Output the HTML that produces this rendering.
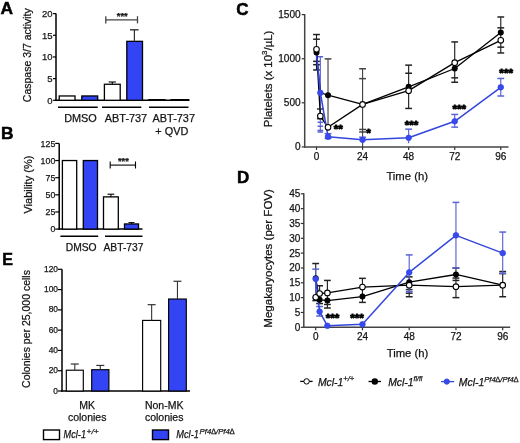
<!DOCTYPE html>
<html><head><meta charset="utf-8"><style>
html,body{margin:0;padding:0;background:#fff;width:520px;height:443px;overflow:hidden}
svg{display:block;will-change:transform}
text{font-family:"Liberation Sans",sans-serif;stroke:#1a1a1a;stroke-width:0.25px}
</style></head><body>
<svg width="520" height="443" viewBox="0 0 520 443">
<rect width="520" height="443" fill="#fff"/>
<text x="0.60" y="14.40" font-size="17.4" text-anchor="start" font-weight="bold" font-style="normal" fill="#000" style="stroke:#000;stroke-width:0.5px">A</text>
<line x1="56.00" y1="13.60" x2="56.00" y2="101.00" stroke="#000" stroke-width="1.50"/>
<line x1="53.00" y1="100.30" x2="56.00" y2="100.30" stroke="#000" stroke-width="1.20"/>
<text x="52.50" y="103.70" font-size="9.5" text-anchor="end" font-weight="normal" font-style="normal" fill="#111" >0</text>
<line x1="53.00" y1="78.62" x2="56.00" y2="78.62" stroke="#000" stroke-width="1.20"/>
<text x="52.50" y="82.03" font-size="9.5" text-anchor="end" font-weight="normal" font-style="normal" fill="#111" >5</text>
<line x1="53.00" y1="56.95" x2="56.00" y2="56.95" stroke="#000" stroke-width="1.20"/>
<text x="52.50" y="60.35" font-size="9.5" text-anchor="end" font-weight="normal" font-style="normal" fill="#111" >10</text>
<line x1="53.00" y1="35.27" x2="56.00" y2="35.27" stroke="#000" stroke-width="1.20"/>
<text x="52.50" y="38.67" font-size="9.5" text-anchor="end" font-weight="normal" font-style="normal" fill="#111" >15</text>
<line x1="53.00" y1="13.60" x2="56.00" y2="13.60" stroke="#000" stroke-width="1.20"/>
<text x="52.50" y="17.00" font-size="9.5" text-anchor="end" font-weight="normal" font-style="normal" fill="#111" >20</text>
<text transform="translate(30.8,55.2) rotate(-90)" font-size="10.5" text-anchor="middle" fill="#111">Caspase 3/7 activity</text>
<line x1="55.30" y1="100.30" x2="189.50" y2="100.30" stroke="#000" stroke-width="1.50"/>
<rect x="59.20" y="95.97" width="15.80" height="4.33" fill="#fff" stroke="#000" stroke-width="1.3"/>
<rect x="81.80" y="95.97" width="15.90" height="4.33" fill="#3344f4" stroke="#000" stroke-width="1.3"/>
<rect x="104.40" y="84.26" width="15.80" height="16.04" fill="#fff" stroke="#000" stroke-width="1.3"/>
<rect x="126.80" y="41.34" width="15.70" height="58.96" fill="#3344f4" stroke="#000" stroke-width="1.3"/>
<rect x="149.00" y="99.65" width="16.00" height="0.65" fill="#fff" stroke="#000" stroke-width="1.3"/>
<rect x="171.00" y="99.65" width="17.50" height="0.65" fill="#3344f4" stroke="#000" stroke-width="1.3"/>
<line x1="112.30" y1="84.26" x2="112.30" y2="82.00" stroke="#000" stroke-width="1.10"/>
<line x1="108.70" y1="82.00" x2="115.90" y2="82.00" stroke="#000" stroke-width="1.10"/>
<line x1="134.40" y1="41.34" x2="134.40" y2="29.80" stroke="#333" stroke-width="1.20"/>
<line x1="130.00" y1="29.80" x2="138.60" y2="29.80" stroke="#333" stroke-width="1.40"/>
<line x1="105.80" y1="19.90" x2="137.50" y2="19.90" stroke="#444" stroke-width="1.30"/>
<line x1="105.80" y1="16.20" x2="105.80" y2="23.40" stroke="#444" stroke-width="1.30"/>
<line x1="137.50" y1="16.20" x2="137.50" y2="23.40" stroke="#444" stroke-width="1.30"/>
<text x="122.20" y="19.40" font-size="9.3" text-anchor="middle" font-weight="bold" font-style="normal" fill="#111" >***</text>
<line x1="58.00" y1="107.20" x2="97.70" y2="107.20" stroke="#000" stroke-width="1.40"/>
<line x1="102.00" y1="107.20" x2="141.30" y2="107.20" stroke="#000" stroke-width="1.40"/>
<line x1="149.00" y1="107.20" x2="188.50" y2="107.20" stroke="#000" stroke-width="1.40"/>
<text x="80.50" y="122.00" font-size="10.9" text-anchor="middle" font-weight="normal" font-style="normal" fill="#111" >DMSO</text>
<text x="126.00" y="122.00" font-size="10.9" text-anchor="middle" font-weight="normal" font-style="normal" fill="#111" >ABT-737</text>
<text x="173.80" y="122.00" font-size="10.9" text-anchor="middle" font-weight="normal" font-style="normal" fill="#111" >ABT-737</text>
<text x="171.80" y="134.80" font-size="10.9" text-anchor="middle" font-weight="normal" font-style="normal" fill="#111" >+ QVD</text>
<text x="1.00" y="139.40" font-size="17.4" text-anchor="start" font-weight="bold" font-style="normal" fill="#000" style="stroke:#000;stroke-width:0.5px">B</text>
<line x1="59.20" y1="143.40" x2="59.20" y2="229.80" stroke="#000" stroke-width="1.50"/>
<line x1="55.20" y1="229.10" x2="59.20" y2="229.10" stroke="#000" stroke-width="1.20"/>
<text x="55.30" y="232.20" font-size="8.8" text-anchor="end" font-weight="normal" font-style="normal" fill="#111" >0</text>
<line x1="55.20" y1="211.96" x2="59.20" y2="211.96" stroke="#000" stroke-width="1.20"/>
<text x="55.30" y="215.06" font-size="8.8" text-anchor="end" font-weight="normal" font-style="normal" fill="#111" >25</text>
<line x1="55.20" y1="194.82" x2="59.20" y2="194.82" stroke="#000" stroke-width="1.20"/>
<text x="55.30" y="197.92" font-size="8.8" text-anchor="end" font-weight="normal" font-style="normal" fill="#111" >50</text>
<line x1="55.20" y1="177.68" x2="59.20" y2="177.68" stroke="#000" stroke-width="1.20"/>
<text x="55.30" y="180.78" font-size="8.8" text-anchor="end" font-weight="normal" font-style="normal" fill="#111" >75</text>
<line x1="55.20" y1="160.54" x2="59.20" y2="160.54" stroke="#000" stroke-width="1.20"/>
<text x="55.30" y="163.64" font-size="8.8" text-anchor="end" font-weight="normal" font-style="normal" fill="#111" >100</text>
<line x1="55.20" y1="143.40" x2="59.20" y2="143.40" stroke="#000" stroke-width="1.20"/>
<text x="55.30" y="146.50" font-size="8.8" text-anchor="end" font-weight="normal" font-style="normal" fill="#111" >125</text>
<text transform="translate(31.6,184.6) rotate(-90)" font-size="11" text-anchor="middle" fill="#111">Viability (%)</text>
<line x1="58.50" y1="229.10" x2="142.50" y2="229.10" stroke="#000" stroke-width="1.50"/>
<rect x="62.40" y="160.54" width="14.30" height="68.56" fill="#fff" stroke="#000" stroke-width="1.3"/>
<rect x="83.30" y="160.54" width="14.20" height="68.56" fill="#3344f4" stroke="#000" stroke-width="1.3"/>
<rect x="103.50" y="196.88" width="14.80" height="32.22" fill="#fff" stroke="#000" stroke-width="1.3"/>
<rect x="124.50" y="223.96" width="14.00" height="5.14" fill="#3344f4" stroke="#000" stroke-width="1.3"/>
<line x1="110.90" y1="196.88" x2="110.90" y2="194.20" stroke="#000" stroke-width="1.10"/>
<line x1="107.50" y1="194.20" x2="114.30" y2="194.20" stroke="#000" stroke-width="1.10"/>
<line x1="131.50" y1="223.96" x2="131.50" y2="222.60" stroke="#000" stroke-width="1.00"/>
<line x1="128.50" y1="222.60" x2="134.50" y2="222.60" stroke="#000" stroke-width="1.00"/>
<line x1="110.20" y1="165.10" x2="135.50" y2="165.10" stroke="#000" stroke-width="1.10"/>
<line x1="110.20" y1="161.50" x2="110.20" y2="168.50" stroke="#000" stroke-width="1.10"/>
<line x1="135.50" y1="161.50" x2="135.50" y2="168.50" stroke="#000" stroke-width="1.10"/>
<text x="123.40" y="163.80" font-size="9.3" text-anchor="middle" font-weight="bold" font-style="normal" fill="#111" >***</text>
<line x1="60.40" y1="236.20" x2="98.20" y2="236.20" stroke="#000" stroke-width="1.40"/>
<line x1="105.00" y1="236.20" x2="142.50" y2="236.20" stroke="#000" stroke-width="1.40"/>
<text x="81.20" y="250.70" font-size="10.3" text-anchor="middle" font-weight="normal" font-style="normal" fill="#111" >DMSO</text>
<text x="123.50" y="250.70" font-size="10.3" text-anchor="middle" font-weight="normal" font-style="normal" fill="#111" >ABT-737</text>
<text x="2.20" y="265.00" font-size="16.0" text-anchor="start" font-weight="bold" font-style="normal" fill="#000" style="stroke:#000;stroke-width:0.5px">E</text>
<line x1="62.00" y1="269.30" x2="62.00" y2="391.70" stroke="#000" stroke-width="1.50"/>
<line x1="58.00" y1="391.00" x2="62.00" y2="391.00" stroke="#000" stroke-width="1.20"/>
<text x="58.00" y="393.50" font-size="8.4" text-anchor="end" font-weight="normal" font-style="normal" fill="#111" >0</text>
<line x1="58.00" y1="370.72" x2="62.00" y2="370.72" stroke="#000" stroke-width="1.20"/>
<text x="58.00" y="373.22" font-size="8.4" text-anchor="end" font-weight="normal" font-style="normal" fill="#111" >20</text>
<line x1="58.00" y1="350.43" x2="62.00" y2="350.43" stroke="#000" stroke-width="1.20"/>
<text x="58.00" y="352.93" font-size="8.4" text-anchor="end" font-weight="normal" font-style="normal" fill="#111" >40</text>
<line x1="58.00" y1="330.15" x2="62.00" y2="330.15" stroke="#000" stroke-width="1.20"/>
<text x="58.00" y="332.65" font-size="8.4" text-anchor="end" font-weight="normal" font-style="normal" fill="#111" >60</text>
<line x1="58.00" y1="309.87" x2="62.00" y2="309.87" stroke="#000" stroke-width="1.20"/>
<text x="58.00" y="312.37" font-size="8.4" text-anchor="end" font-weight="normal" font-style="normal" fill="#111" >80</text>
<line x1="58.00" y1="289.58" x2="62.00" y2="289.58" stroke="#000" stroke-width="1.20"/>
<text x="58.00" y="292.08" font-size="8.4" text-anchor="end" font-weight="normal" font-style="normal" fill="#111" >100</text>
<line x1="58.00" y1="269.30" x2="62.00" y2="269.30" stroke="#000" stroke-width="1.20"/>
<text x="58.00" y="271.80" font-size="8.4" text-anchor="end" font-weight="normal" font-style="normal" fill="#111" >120</text>
<text transform="translate(30.2,329) rotate(-90)" font-size="10.5" text-anchor="middle" fill="#111">Colonies per 25,000 cells</text>
<line x1="61.30" y1="391.00" x2="190.00" y2="391.00" stroke="#000" stroke-width="1.50"/>
<rect x="66.30" y="370.21" width="17.00" height="20.79" fill="#fff" stroke="#000" stroke-width="1.15"/>
<line x1="74.80" y1="370.21" x2="74.80" y2="364.02" stroke="#333" stroke-width="1.10"/>
<line x1="70.80" y1="364.02" x2="78.80" y2="364.02" stroke="#333" stroke-width="1.20"/>
<rect x="91.70" y="369.70" width="17.20" height="21.30" fill="#3344f4" stroke="#000" stroke-width="1.15"/>
<line x1="100.30" y1="369.70" x2="100.30" y2="365.44" stroke="#333" stroke-width="1.10"/>
<line x1="96.30" y1="365.44" x2="104.30" y2="365.44" stroke="#333" stroke-width="1.20"/>
<rect x="142.60" y="320.41" width="18.10" height="70.59" fill="#fff" stroke="#000" stroke-width="1.15"/>
<line x1="151.65" y1="320.41" x2="151.65" y2="304.69" stroke="#333" stroke-width="1.10"/>
<line x1="147.65" y1="304.69" x2="155.65" y2="304.69" stroke="#333" stroke-width="1.20"/>
<rect x="168.60" y="299.02" width="17.70" height="91.98" fill="#3344f4" stroke="#000" stroke-width="1.15"/>
<line x1="177.45" y1="299.02" x2="177.45" y2="281.27" stroke="#333" stroke-width="1.10"/>
<line x1="173.45" y1="281.27" x2="181.45" y2="281.27" stroke="#333" stroke-width="1.20"/>
<text x="87.20" y="408.80" font-size="10.5" text-anchor="middle" font-weight="normal" font-style="normal" fill="#111" >MK</text>
<text x="87.20" y="421.00" font-size="10.5" text-anchor="middle" font-weight="normal" font-style="normal" fill="#111" >colonies</text>
<text x="164.20" y="408.80" font-size="10.5" text-anchor="middle" font-weight="normal" font-style="normal" fill="#111" >Non-MK</text>
<text x="164.20" y="421.00" font-size="10.5" text-anchor="middle" font-weight="normal" font-style="normal" fill="#111" >colonies</text>
<rect x="43.50" y="430.00" width="16.00" height="9.60" fill="#fff" stroke="#000" stroke-width="1.4"/>
<text x="63.6" y="438.4" font-size="10.5" font-style="italic" fill="#111" textLength="22.4" lengthAdjust="spacingAndGlyphs">Mcl-1</text>
<text x="86.6" y="434.2" font-size="7.8" font-style="italic" fill="#111" textLength="12.0" lengthAdjust="spacingAndGlyphs">+/+</text>
<rect x="152.50" y="430.00" width="16.00" height="9.60" fill="#3344f4" stroke="#000" stroke-width="1.4"/>
<text x="176.3" y="438.4" font-size="10.5" font-style="italic" fill="#111" textLength="22.6" lengthAdjust="spacingAndGlyphs">Mcl-1</text>
<text x="199.6" y="434.2" font-size="7.8" font-style="italic" fill="#111" textLength="35.0" lengthAdjust="spacingAndGlyphs">Pf4<tspan font-style="normal">∆</tspan>/Pf4<tspan font-style="normal">∆</tspan></text>
<text x="236.30" y="14.60" font-size="17.0" text-anchor="start" font-weight="bold" font-style="normal" fill="#000" style="stroke:#000;stroke-width:0.5px">C</text>
<line x1="304.70" y1="14.10" x2="304.70" y2="147.60" stroke="#444" stroke-width="1.50"/>
<line x1="301.70" y1="146.90" x2="304.70" y2="146.90" stroke="#333" stroke-width="1.20"/>
<text x="300.70" y="150.20" font-size="10.1" text-anchor="end" font-weight="normal" font-style="normal" fill="#111" >0</text>
<line x1="301.70" y1="102.80" x2="304.70" y2="102.80" stroke="#333" stroke-width="1.20"/>
<text x="300.70" y="106.10" font-size="10.1" text-anchor="end" font-weight="normal" font-style="normal" fill="#111" >500</text>
<line x1="301.70" y1="58.70" x2="304.70" y2="58.70" stroke="#333" stroke-width="1.20"/>
<text x="300.70" y="62.00" font-size="10.1" text-anchor="end" font-weight="normal" font-style="normal" fill="#111" >1000</text>
<line x1="301.70" y1="14.60" x2="304.70" y2="14.60" stroke="#333" stroke-width="1.20"/>
<text x="300.70" y="17.90" font-size="10.1" text-anchor="end" font-weight="normal" font-style="normal" fill="#111" >1500</text>
<line x1="304.00" y1="146.90" x2="508.50" y2="146.90" stroke="#444" stroke-width="1.50"/>
<line x1="316.50" y1="146.90" x2="316.50" y2="149.90" stroke="#333" stroke-width="1.20"/>
<text x="316.50" y="160.00" font-size="10" text-anchor="middle" font-weight="normal" font-style="normal" fill="#111" >0</text>
<line x1="362.57" y1="146.90" x2="362.57" y2="149.90" stroke="#333" stroke-width="1.20"/>
<text x="362.57" y="160.00" font-size="10" text-anchor="middle" font-weight="normal" font-style="normal" fill="#111" >24</text>
<line x1="408.64" y1="146.90" x2="408.64" y2="149.90" stroke="#333" stroke-width="1.20"/>
<text x="408.64" y="160.00" font-size="10" text-anchor="middle" font-weight="normal" font-style="normal" fill="#111" >48</text>
<line x1="454.71" y1="146.90" x2="454.71" y2="149.90" stroke="#333" stroke-width="1.20"/>
<text x="454.71" y="160.00" font-size="10" text-anchor="middle" font-weight="normal" font-style="normal" fill="#111" >72</text>
<line x1="500.78" y1="146.90" x2="500.78" y2="149.90" stroke="#333" stroke-width="1.20"/>
<text x="500.78" y="160.00" font-size="10" text-anchor="middle" font-weight="normal" font-style="normal" fill="#111" >96</text>
<text x="407.20" y="179.80" font-size="11.3" text-anchor="middle" font-weight="normal" font-style="normal" fill="#111" >Time (h)</text>
<text transform="translate(271.5,78.9) rotate(-90)" font-size="11.4" text-anchor="middle" fill="#111">Platelets (x 10<tspan font-size="8" dy="-4.2">3</tspan><tspan dy="4.2">/µL)</tspan></text>
<line x1="316.50" y1="69.99" x2="316.50" y2="34.53" stroke="#222" stroke-width="1.15"/>
<line x1="313.10" y1="34.53" x2="319.90" y2="34.53" stroke="#222" stroke-width="1.49"/>
<line x1="313.10" y1="39.21" x2="319.90" y2="39.21" stroke="#222" stroke-width="1.49"/>
<line x1="313.10" y1="61.35" x2="319.90" y2="61.35" stroke="#222" stroke-width="1.49"/>
<line x1="313.10" y1="64.70" x2="319.90" y2="64.70" stroke="#222" stroke-width="1.49"/>
<line x1="313.10" y1="69.99" x2="319.90" y2="69.99" stroke="#222" stroke-width="1.49"/>
<line x1="320.34" y1="118.76" x2="320.34" y2="108.97" stroke="#333" stroke-width="1.15"/>
<line x1="316.94" y1="108.97" x2="323.74" y2="108.97" stroke="#333" stroke-width="1.49"/>
<line x1="316.94" y1="118.76" x2="323.74" y2="118.76" stroke="#333" stroke-width="1.49"/>
<line x1="328.02" y1="127.32" x2="328.02" y2="58.88" stroke="#444" stroke-width="1.15"/>
<line x1="324.62" y1="58.88" x2="331.42" y2="58.88" stroke="#444" stroke-width="1.49"/>
<line x1="362.57" y1="146.90" x2="362.57" y2="68.75" stroke="#444" stroke-width="1.15"/>
<line x1="359.17" y1="68.75" x2="365.97" y2="68.75" stroke="#444" stroke-width="1.49"/>
<line x1="359.17" y1="78.63" x2="365.97" y2="78.63" stroke="#444" stroke-width="1.49"/>
<line x1="359.17" y1="129.44" x2="365.97" y2="129.44" stroke="#444" stroke-width="1.49"/>
<line x1="359.17" y1="131.99" x2="365.97" y2="131.99" stroke="#444" stroke-width="1.49"/>
<line x1="408.64" y1="108.44" x2="408.64" y2="65.14" stroke="#222" stroke-width="1.15"/>
<line x1="405.24" y1="65.14" x2="412.04" y2="65.14" stroke="#222" stroke-width="1.49"/>
<line x1="405.24" y1="73.25" x2="412.04" y2="73.25" stroke="#222" stroke-width="1.49"/>
<line x1="405.24" y1="108.44" x2="412.04" y2="108.44" stroke="#222" stroke-width="1.49"/>
<line x1="454.71" y1="82.25" x2="454.71" y2="41.94" stroke="#222" stroke-width="1.15"/>
<line x1="451.31" y1="41.94" x2="458.11" y2="41.94" stroke="#222" stroke-width="1.49"/>
<line x1="451.31" y1="77.84" x2="458.11" y2="77.84" stroke="#222" stroke-width="1.49"/>
<line x1="451.31" y1="82.25" x2="458.11" y2="82.25" stroke="#222" stroke-width="1.49"/>
<line x1="500.78" y1="52.97" x2="500.78" y2="16.98" stroke="#222" stroke-width="1.15"/>
<line x1="497.38" y1="16.98" x2="504.18" y2="16.98" stroke="#222" stroke-width="1.49"/>
<line x1="497.38" y1="27.83" x2="504.18" y2="27.83" stroke="#222" stroke-width="1.49"/>
<line x1="497.38" y1="47.15" x2="504.18" y2="47.15" stroke="#222" stroke-width="1.49"/>
<line x1="497.38" y1="52.97" x2="504.18" y2="52.97" stroke="#222" stroke-width="1.49"/>
<line x1="320.34" y1="131.99" x2="320.34" y2="56.76" stroke="#5863d6" stroke-width="1.15"/>
<line x1="317.54" y1="56.76" x2="323.14" y2="56.76" stroke="#5863d6" stroke-width="1.49"/>
<line x1="317.54" y1="122.29" x2="323.14" y2="122.29" stroke="#5863d6" stroke-width="1.49"/>
<line x1="317.54" y1="126.26" x2="323.14" y2="126.26" stroke="#5863d6" stroke-width="1.49"/>
<line x1="317.54" y1="130.41" x2="323.14" y2="130.41" stroke="#5863d6" stroke-width="1.49"/>
<line x1="317.54" y1="131.99" x2="323.14" y2="131.99" stroke="#5863d6" stroke-width="1.49"/>
<line x1="328.02" y1="138.96" x2="328.02" y2="133.67" stroke="#5863d6" stroke-width="1.15"/>
<line x1="324.62" y1="133.67" x2="331.42" y2="133.67" stroke="#5863d6" stroke-width="1.49"/>
<line x1="324.62" y1="138.52" x2="331.42" y2="138.52" stroke="#5863d6" stroke-width="1.49"/>
<line x1="362.57" y1="143.37" x2="362.57" y2="137.20" stroke="#5863d6" stroke-width="1.15"/>
<line x1="359.17" y1="137.20" x2="365.97" y2="137.20" stroke="#5863d6" stroke-width="1.49"/>
<line x1="408.64" y1="143.37" x2="408.64" y2="129.17" stroke="#5863d6" stroke-width="1.15"/>
<line x1="405.24" y1="129.17" x2="412.04" y2="129.17" stroke="#5863d6" stroke-width="1.49"/>
<line x1="454.71" y1="127.14" x2="454.71" y2="114.44" stroke="#5863d6" stroke-width="1.15"/>
<line x1="451.31" y1="114.44" x2="458.11" y2="114.44" stroke="#5863d6" stroke-width="1.49"/>
<line x1="451.31" y1="127.14" x2="458.11" y2="127.14" stroke="#5863d6" stroke-width="1.49"/>
<line x1="500.78" y1="96.01" x2="500.78" y2="78.46" stroke="#5863d6" stroke-width="1.15"/>
<line x1="497.38" y1="78.46" x2="504.18" y2="78.46" stroke="#5863d6" stroke-width="1.49"/>
<line x1="497.38" y1="96.01" x2="504.18" y2="96.01" stroke="#5863d6" stroke-width="1.49"/>
<polyline points="316.50,52.61 320.34,92.75 328.02,95.21 362.57,104.39 408.64,86.84 454.71,68.49 500.78,32.50" fill="none" stroke="#000" stroke-width="1.3" stroke-linejoin="round"/>
<polyline points="316.50,49.26 320.34,116.03 328.02,127.32 362.57,104.39 408.64,90.63 454.71,62.67 500.78,40.35" fill="none" stroke="#000" stroke-width="1.3" stroke-linejoin="round"/>
<polyline points="316.50,55.17 320.34,92.75 328.02,136.67 362.57,139.84 408.64,137.82 454.71,121.32 500.78,87.28" fill="none" stroke="#3446dc" stroke-width="1.5" stroke-linejoin="round"/>
<circle cx="316.50" cy="52.61" r="2.4" fill="#000" stroke="#000" stroke-width="1.2"/>
<circle cx="328.02" cy="95.21" r="2.4" fill="#000" stroke="#000" stroke-width="1.2"/>
<circle cx="408.64" cy="86.84" r="2.4" fill="#000" stroke="#000" stroke-width="1.2"/>
<circle cx="454.71" cy="68.49" r="2.4" fill="#000" stroke="#000" stroke-width="1.2"/>
<circle cx="500.78" cy="32.50" r="2.4" fill="#000" stroke="#000" stroke-width="1.2"/>
<circle cx="316.50" cy="49.26" r="2.8" fill="#fff" stroke="#000" stroke-width="1.1"/>
<circle cx="320.34" cy="116.03" r="2.8" fill="#fff" stroke="#000" stroke-width="1.1"/>
<circle cx="328.02" cy="127.32" r="2.8" fill="#fff" stroke="#000" stroke-width="1.1"/>
<circle cx="362.57" cy="104.39" r="2.8" fill="#fff" stroke="#000" stroke-width="1.1"/>
<circle cx="408.64" cy="90.63" r="2.8" fill="#fff" stroke="#000" stroke-width="1.1"/>
<circle cx="454.71" cy="62.67" r="2.8" fill="#fff" stroke="#000" stroke-width="1.1"/>
<circle cx="500.78" cy="40.35" r="2.8" fill="#fff" stroke="#000" stroke-width="1.1"/>
<circle cx="320.34" cy="92.75" r="2.8" fill="#3848f2" stroke="#3446dc" stroke-width="0.8"/>
<circle cx="328.02" cy="136.67" r="2.8" fill="#3848f2" stroke="#3446dc" stroke-width="0.8"/>
<circle cx="362.57" cy="139.84" r="2.8" fill="#3848f2" stroke="#3446dc" stroke-width="0.8"/>
<circle cx="408.64" cy="137.82" r="2.8" fill="#3848f2" stroke="#3446dc" stroke-width="0.8"/>
<circle cx="454.71" cy="121.32" r="2.8" fill="#3848f2" stroke="#3446dc" stroke-width="0.8"/>
<circle cx="500.78" cy="87.28" r="2.8" fill="#3848f2" stroke="#3446dc" stroke-width="0.8"/>
<text x="338.30" y="133.10" font-size="11.7" text-anchor="middle" font-weight="bold" font-style="normal" fill="#111" style="stroke:#000;stroke-width:0.85px">**</text>
<text x="368.60" y="137.40" font-size="11.7" text-anchor="middle" font-weight="bold" font-style="normal" fill="#111" style="stroke:#000;stroke-width:0.85px">*</text>
<text x="411.60" y="128.80" font-size="11.7" text-anchor="middle" font-weight="bold" font-style="normal" fill="#111" style="stroke:#000;stroke-width:0.85px">***</text>
<text x="459.30" y="112.60" font-size="11.7" text-anchor="middle" font-weight="bold" font-style="normal" fill="#111" style="stroke:#000;stroke-width:0.85px">***</text>
<text x="506.20" y="77.40" font-size="11.7" text-anchor="middle" font-weight="bold" font-style="normal" fill="#111" style="stroke:#000;stroke-width:0.85px">***</text>
<text x="237.00" y="183.20" font-size="17.0" text-anchor="start" font-weight="bold" font-style="normal" fill="#000" style="stroke:#000;stroke-width:0.5px">D</text>
<line x1="303.80" y1="193.30" x2="303.80" y2="328.00" stroke="#444" stroke-width="1.50"/>
<line x1="300.80" y1="327.30" x2="303.80" y2="327.30" stroke="#333" stroke-width="1.20"/>
<text x="300.30" y="330.80" font-size="10" text-anchor="end" font-weight="normal" font-style="normal" fill="#111" >0</text>
<line x1="300.80" y1="312.47" x2="303.80" y2="312.47" stroke="#333" stroke-width="1.20"/>
<text x="300.30" y="315.97" font-size="10" text-anchor="end" font-weight="normal" font-style="normal" fill="#111" >5</text>
<line x1="300.80" y1="297.63" x2="303.80" y2="297.63" stroke="#333" stroke-width="1.20"/>
<text x="300.30" y="301.13" font-size="10" text-anchor="end" font-weight="normal" font-style="normal" fill="#111" >10</text>
<line x1="300.80" y1="282.80" x2="303.80" y2="282.80" stroke="#333" stroke-width="1.20"/>
<text x="300.30" y="286.30" font-size="10" text-anchor="end" font-weight="normal" font-style="normal" fill="#111" >15</text>
<line x1="300.80" y1="267.97" x2="303.80" y2="267.97" stroke="#333" stroke-width="1.20"/>
<text x="300.30" y="271.47" font-size="10" text-anchor="end" font-weight="normal" font-style="normal" fill="#111" >20</text>
<line x1="300.80" y1="253.13" x2="303.80" y2="253.13" stroke="#333" stroke-width="1.20"/>
<text x="300.30" y="256.63" font-size="10" text-anchor="end" font-weight="normal" font-style="normal" fill="#111" >25</text>
<line x1="300.80" y1="238.30" x2="303.80" y2="238.30" stroke="#333" stroke-width="1.20"/>
<text x="300.30" y="241.80" font-size="10" text-anchor="end" font-weight="normal" font-style="normal" fill="#111" >30</text>
<line x1="300.80" y1="223.47" x2="303.80" y2="223.47" stroke="#333" stroke-width="1.20"/>
<text x="300.30" y="226.97" font-size="10" text-anchor="end" font-weight="normal" font-style="normal" fill="#111" >35</text>
<line x1="300.80" y1="208.63" x2="303.80" y2="208.63" stroke="#333" stroke-width="1.20"/>
<text x="300.30" y="212.13" font-size="10" text-anchor="end" font-weight="normal" font-style="normal" fill="#111" >40</text>
<line x1="300.80" y1="193.80" x2="303.80" y2="193.80" stroke="#333" stroke-width="1.20"/>
<text x="300.30" y="197.30" font-size="10" text-anchor="end" font-weight="normal" font-style="normal" fill="#111" >45</text>
<line x1="303.10" y1="327.30" x2="510.20" y2="327.30" stroke="#444" stroke-width="1.50"/>
<line x1="315.70" y1="327.30" x2="315.70" y2="330.30" stroke="#333" stroke-width="1.20"/>
<text x="315.70" y="339.60" font-size="10" text-anchor="middle" font-weight="normal" font-style="normal" fill="#111" >0</text>
<line x1="362.45" y1="327.30" x2="362.45" y2="330.30" stroke="#333" stroke-width="1.20"/>
<text x="362.45" y="339.60" font-size="10" text-anchor="middle" font-weight="normal" font-style="normal" fill="#111" >24</text>
<line x1="409.20" y1="327.30" x2="409.20" y2="330.30" stroke="#333" stroke-width="1.20"/>
<text x="409.20" y="339.60" font-size="10" text-anchor="middle" font-weight="normal" font-style="normal" fill="#111" >48</text>
<line x1="455.95" y1="327.30" x2="455.95" y2="330.30" stroke="#333" stroke-width="1.20"/>
<text x="455.95" y="339.60" font-size="10" text-anchor="middle" font-weight="normal" font-style="normal" fill="#111" >72</text>
<line x1="502.70" y1="327.30" x2="502.70" y2="330.30" stroke="#333" stroke-width="1.20"/>
<text x="502.70" y="339.60" font-size="10" text-anchor="middle" font-weight="normal" font-style="normal" fill="#111" >96</text>
<text x="407.50" y="357.30" font-size="11.3" text-anchor="middle" font-weight="normal" font-style="normal" fill="#111" >Time (h)</text>
<text transform="translate(272.1,258.4) rotate(-90)" font-size="11.55" text-anchor="middle" fill="#111">Megakaryocytes (per FOV)</text>
<line x1="315.70" y1="300.60" x2="315.70" y2="263.52" stroke="#222" stroke-width="1.15"/>
<line x1="312.30" y1="263.52" x2="319.10" y2="263.52" stroke="#222" stroke-width="1.49"/>
<line x1="312.30" y1="300.60" x2="319.10" y2="300.60" stroke="#222" stroke-width="1.49"/>
<line x1="319.60" y1="303.57" x2="319.60" y2="285.77" stroke="#222" stroke-width="1.15"/>
<line x1="316.20" y1="285.77" x2="323.00" y2="285.77" stroke="#222" stroke-width="1.49"/>
<line x1="316.20" y1="303.57" x2="323.00" y2="303.57" stroke="#222" stroke-width="1.49"/>
<line x1="327.39" y1="308.02" x2="327.39" y2="280.43" stroke="#222" stroke-width="1.15"/>
<line x1="323.99" y1="280.43" x2="330.79" y2="280.43" stroke="#222" stroke-width="1.49"/>
<line x1="323.99" y1="304.46" x2="330.79" y2="304.46" stroke="#222" stroke-width="1.49"/>
<line x1="323.99" y1="308.02" x2="330.79" y2="308.02" stroke="#222" stroke-width="1.49"/>
<line x1="362.45" y1="302.38" x2="362.45" y2="278.35" stroke="#222" stroke-width="1.15"/>
<line x1="359.05" y1="278.35" x2="365.85" y2="278.35" stroke="#222" stroke-width="1.49"/>
<line x1="359.05" y1="302.38" x2="365.85" y2="302.38" stroke="#222" stroke-width="1.49"/>
<line x1="409.20" y1="296.74" x2="409.20" y2="276.87" stroke="#222" stroke-width="1.15"/>
<line x1="405.80" y1="276.87" x2="412.60" y2="276.87" stroke="#222" stroke-width="1.49"/>
<line x1="405.80" y1="289.62" x2="412.60" y2="289.62" stroke="#222" stroke-width="1.49"/>
<line x1="405.80" y1="293.18" x2="412.60" y2="293.18" stroke="#222" stroke-width="1.49"/>
<line x1="405.80" y1="296.74" x2="412.60" y2="296.74" stroke="#222" stroke-width="1.49"/>
<line x1="455.95" y1="297.63" x2="455.95" y2="267.97" stroke="#222" stroke-width="1.15"/>
<line x1="452.55" y1="267.97" x2="459.35" y2="267.97" stroke="#222" stroke-width="1.49"/>
<line x1="452.55" y1="278.05" x2="459.35" y2="278.05" stroke="#222" stroke-width="1.49"/>
<line x1="452.55" y1="280.43" x2="459.35" y2="280.43" stroke="#222" stroke-width="1.49"/>
<line x1="452.55" y1="297.63" x2="459.35" y2="297.63" stroke="#222" stroke-width="1.49"/>
<line x1="502.70" y1="296.74" x2="502.70" y2="271.53" stroke="#222" stroke-width="1.15"/>
<line x1="499.30" y1="271.53" x2="506.10" y2="271.53" stroke="#222" stroke-width="1.49"/>
<line x1="499.30" y1="273.60" x2="506.10" y2="273.60" stroke="#222" stroke-width="1.49"/>
<line x1="499.30" y1="296.74" x2="506.10" y2="296.74" stroke="#222" stroke-width="1.49"/>
<line x1="315.70" y1="297.63" x2="315.70" y2="269.15" stroke="#5863d6" stroke-width="1.15"/>
<line x1="312.30" y1="269.15" x2="319.10" y2="269.15" stroke="#5863d6" stroke-width="1.49"/>
<line x1="312.30" y1="297.63" x2="319.10" y2="297.63" stroke="#5863d6" stroke-width="1.49"/>
<line x1="319.60" y1="316.03" x2="319.60" y2="306.53" stroke="#5863d6" stroke-width="1.15"/>
<line x1="316.20" y1="306.53" x2="323.00" y2="306.53" stroke="#5863d6" stroke-width="1.49"/>
<line x1="316.20" y1="316.03" x2="323.00" y2="316.03" stroke="#5863d6" stroke-width="1.49"/>
<line x1="409.20" y1="291.70" x2="409.20" y2="254.91" stroke="#5863d6" stroke-width="1.15"/>
<line x1="405.80" y1="254.91" x2="412.60" y2="254.91" stroke="#5863d6" stroke-width="1.49"/>
<line x1="405.80" y1="291.70" x2="412.60" y2="291.70" stroke="#5863d6" stroke-width="1.49"/>
<line x1="455.95" y1="267.97" x2="455.95" y2="202.40" stroke="#5863d6" stroke-width="1.15"/>
<line x1="452.55" y1="202.40" x2="459.35" y2="202.40" stroke="#5863d6" stroke-width="1.49"/>
<line x1="452.55" y1="267.97" x2="459.35" y2="267.97" stroke="#5863d6" stroke-width="1.49"/>
<line x1="502.70" y1="273.31" x2="502.70" y2="232.07" stroke="#5863d6" stroke-width="1.15"/>
<line x1="499.30" y1="232.07" x2="506.10" y2="232.07" stroke="#5863d6" stroke-width="1.49"/>
<line x1="499.30" y1="273.31" x2="506.10" y2="273.31" stroke="#5863d6" stroke-width="1.49"/>
<polyline points="315.70,278.35 319.60,299.71 327.39,300.60 362.45,296.60 409.20,282.21 455.95,274.49 502.70,285.17" fill="none" stroke="#000" stroke-width="1.3" stroke-linejoin="round"/>
<polyline points="315.70,297.34 319.60,293.48 327.39,292.89 362.45,287.10 409.20,285.17 455.95,286.66 502.70,285.17" fill="none" stroke="#000" stroke-width="1.3" stroke-linejoin="round"/>
<polyline points="315.70,278.94 319.60,311.58 327.39,325.82 362.45,324.33 409.20,272.42 455.95,235.33 502.70,253.13" fill="none" stroke="#3446dc" stroke-width="1.5" stroke-linejoin="round"/>
<circle cx="315.70" cy="278.35" r="2.4" fill="#000" stroke="#000" stroke-width="1.2"/>
<circle cx="319.60" cy="299.71" r="2.4" fill="#000" stroke="#000" stroke-width="1.2"/>
<circle cx="327.39" cy="300.60" r="2.4" fill="#000" stroke="#000" stroke-width="1.2"/>
<circle cx="362.45" cy="296.60" r="2.4" fill="#000" stroke="#000" stroke-width="1.2"/>
<circle cx="409.20" cy="282.21" r="2.4" fill="#000" stroke="#000" stroke-width="1.2"/>
<circle cx="455.95" cy="274.49" r="2.4" fill="#000" stroke="#000" stroke-width="1.2"/>
<circle cx="502.70" cy="285.17" r="2.4" fill="#000" stroke="#000" stroke-width="1.2"/>
<circle cx="315.70" cy="297.34" r="2.8" fill="#fff" stroke="#000" stroke-width="1.1"/>
<circle cx="319.60" cy="293.48" r="2.8" fill="#fff" stroke="#000" stroke-width="1.1"/>
<circle cx="327.39" cy="292.89" r="2.8" fill="#fff" stroke="#000" stroke-width="1.1"/>
<circle cx="362.45" cy="287.10" r="2.8" fill="#fff" stroke="#000" stroke-width="1.1"/>
<circle cx="409.20" cy="285.17" r="2.8" fill="#fff" stroke="#000" stroke-width="1.1"/>
<circle cx="455.95" cy="286.66" r="2.8" fill="#fff" stroke="#000" stroke-width="1.1"/>
<circle cx="502.70" cy="285.17" r="2.8" fill="#fff" stroke="#000" stroke-width="1.1"/>
<circle cx="315.70" cy="278.94" r="2.8" fill="#3848f2" stroke="#3446dc" stroke-width="0.8"/>
<circle cx="319.60" cy="311.58" r="2.8" fill="#3848f2" stroke="#3446dc" stroke-width="0.8"/>
<circle cx="327.39" cy="325.82" r="2.8" fill="#3848f2" stroke="#3446dc" stroke-width="0.8"/>
<circle cx="362.45" cy="324.33" r="2.8" fill="#3848f2" stroke="#3446dc" stroke-width="0.8"/>
<circle cx="409.20" cy="272.42" r="2.8" fill="#3848f2" stroke="#3446dc" stroke-width="0.8"/>
<circle cx="455.95" cy="235.33" r="2.8" fill="#3848f2" stroke="#3446dc" stroke-width="0.8"/>
<circle cx="502.70" cy="253.13" r="2.8" fill="#3848f2" stroke="#3446dc" stroke-width="0.8"/>
<text x="332.50" y="321.60" font-size="11.7" text-anchor="middle" font-weight="bold" font-style="normal" fill="#111" style="stroke:#000;stroke-width:0.85px">***</text>
<text x="357.00" y="321.60" font-size="11.7" text-anchor="middle" font-weight="bold" font-style="normal" fill="#111" style="stroke:#000;stroke-width:0.85px">***</text>
<line x1="300.20" y1="381.40" x2="312.60" y2="381.40" stroke="#000" stroke-width="1.30"/>
<circle cx="306.6" cy="381.4" r="2.7" fill="#fff" stroke="#000" stroke-width="1.0"/>
<text x="317.9" y="386.0" font-size="10.4" font-style="italic" fill="#111">Mcl-1<tspan font-size="7.6" dy="-4.6">+/+</tspan></text>
<line x1="368.50" y1="381.50" x2="381.00" y2="381.50" stroke="#000" stroke-width="1.30"/>
<circle cx="374.8" cy="381.5" r="2.6" fill="#000" stroke="#000" stroke-width="1.2"/>
<text x="388.2" y="386.0" font-size="10.4" font-style="italic" fill="#111">Mcl-1<tspan font-size="6.8" dy="-4.8">fl/fl</tspan></text>
<line x1="441.00" y1="381.60" x2="454.20" y2="381.60" stroke="#3446dc" stroke-width="1.30"/>
<circle cx="446.8" cy="381.6" r="2.6" fill="#3848f2" stroke="#3446dc" stroke-width="1.0"/>
<text x="458.8" y="386.0" font-size="10.4" font-style="italic" fill="#111">Mcl-1<tspan font-size="7.6" dy="-4.4">Pf4<tspan font-style="normal">∆</tspan>/Pf4<tspan font-style="normal">∆</tspan></tspan></text>
</svg></body></html>
